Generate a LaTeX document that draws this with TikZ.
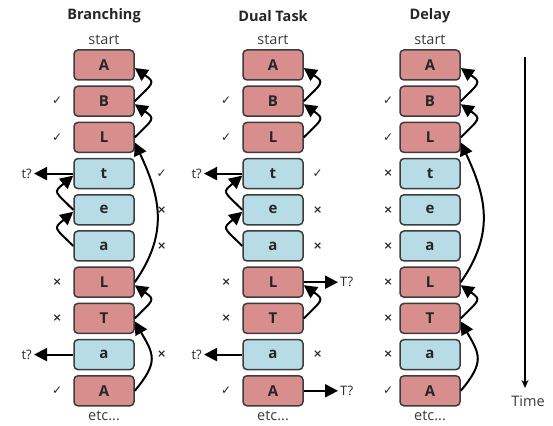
\documentclass[tikz,border=0pt]{standalone}
\usepackage{fontspec}
\setmainfont{Open Sans}
\newfontfamily\symfont{DejaVu Sans}
\usetikzlibrary{arrows.meta}
\definecolor{redbox}{HTML}{D98E8E}
\definecolor{bluebox}{HTML}{B7DCE6}
\definecolor{boxedge}{HTML}{3C3C3C}
\definecolor{softtext}{HTML}{3A3A3A}

\tikzset{
  letterbox/.style={draw=boxedge, line width=1.5pt, rounded corners=4pt,
    minimum width=60pt, minimum height=30pt, inner sep=0pt,
    font=\fontsize{15}{15}\selectfont\bfseries, text=black!85},
  rbox/.style={letterbox, fill=redbox},
  bbox/.style={letterbox, fill=bluebox},
  flow/.style={line width=2pt, -{Triangle[length=13pt,width=13pt]}},
  hop/.style={flow, looseness=2},
  title/.style={font=\fontsize{14.5}{14.5}\selectfont\bfseries, text=black!85},
  caption/.style={font=\fontsize{14.5}{14.5}\selectfont, text=softtext},
  tag/.style={font=\fontsize{13}{13}\selectfont, text=black!85, inner sep=2pt},
  note/.style={font=\symfont\fontsize{12}{12}\selectfont, text=black!85, inner sep=0pt},
  cross/.style={note, font=\symfont\bfseries\fontsize{11}{11}\selectfont}
}

\begin{document}
\begin{tikzpicture}[x=1pt,y=1pt]
\useasboundingbox (0,0) rectangle (553,425);

% three columns of letter boxes
\foreach \col/\cx in {br/104, du/273, de/430}{
  \foreach \lab/\sty [count=\i] in {A/rbox,B/rbox,L/rbox,t/bbox,e/bbox,a/bbox,L/rbox,T/rbox,a/bbox,A/rbox}{
    \node[\sty] (\col\i) at (\cx, {360-36.2*(\i-1)}) {\lab};
  }
}

% column headings
\node[title] (h1) at (104,409) {Branching};
\node[title] (h2) at (273,409) {Dual Task};
\node[title] (h3) at (430,409) {Delay};
\foreach \col/\cx in {br/104, du/273, de/430}{
  \node[caption] (\col start) at (\cx,385) {start};
  \node[caption] (\col etc) at (\cx,9) {etc...};
}

% marks left of the boxes
\foreach \col/\dx in {br/16, du/16}{
  \foreach \i/\m/\s in {2/✓/note,3/✓/note,7/×/cross,8/×/cross,10/✓/note}{
    \node[\s] (\col m\i) at ([xshift=-\dx pt]\col\i.west) {\m};
  }
}
\foreach \i/\m/\s in {2/✓/note,3/✓/note,4/×/cross,5/×/cross,6/×/cross,7/×/cross,8/×/cross,9/×/cross,10/✓/note}{
  \node[\s] (dem\i) at ([xshift=-11pt]de\i.west) {\m};
}

% marks right of the boxes
\foreach \i/\m/\s in {4/✓/note,5/×/cross,6/×/cross,9/×/cross}{
  \node[\s] (brr\i) at ([xshift=27pt]br\i.east) {\m};
  \node[\s] (dur\i) at ([xshift=14pt]du\i.east) {\m};
}

% step-back arrows on the right
\foreach \col in {br,du,de}{
  \draw[hop] (\col2.east) to[out=45,in=-35] ([yshift=-3pt]\col1.east);
  \draw[hop] (\col3.east) to[out=45,in=-35] ([yshift=-3pt]\col2.east);
  \draw[hop] (\col8.east) to[out=45,in=-35] ([yshift=-3pt]\col7.east);
}
\foreach \col in {br,de}{
  \draw[flow, looseness=1.1] (\col7.east) to[out=55,in=-65] ([yshift=-5pt]\col3.east);
  \draw[flow, looseness=1.4] (\col10.east) to[out=50,in=-60] ([yshift=-3pt]\col8.east);
}

% step-back arrows on the left
\foreach \col in {br,du}{
  \draw[hop] (\col5.west) to[out=135,in=-140] ([yshift=-2pt]\col4.west);
  \draw[hop] (\col6.west) to[out=135,in=-140] ([yshift=-2pt]\col5.west);
}

% probe arrows
\node[tag, anchor=east] (brq4) at (34,{360-36.2*3}) {t?};
\node[tag, anchor=east] (brq9) at (34,{360-36.2*8}) {t?};
\node[tag, anchor=east] (duq4) at (204,{360-36.2*3}) {t?};
\node[tag, anchor=east] (duq9) at (204,{360-36.2*8}) {t?};
\node[tag, anchor=west] (duq7) at (338,{360-36.2*6}) {T?};
\node[tag, anchor=west] (duq10) at (338,{360-36.2*9}) {T?};
\draw[flow] (br4.west) -- (brq4.east);
\draw[flow] (br9.west) -- (brq9.east);
\draw[flow] (du4.west) -- (duq4.east);
\draw[flow] (du9.west) -- (duq9.east);
\draw[flow] (du7.east) -- (duq7.west);
\draw[flow] (du10.east) -- (duq10.west);

% time axis
\coordinate (ttop) at (525,368);
\coordinate (tbot) at (525,37);
\node[caption] (timelbl) at (528,24) {Time};
\draw[line width=1.6pt, -{Stealth[length=8pt,width=7pt]}] (ttop) -- (tbot);
\end{tikzpicture}
\end{document}
